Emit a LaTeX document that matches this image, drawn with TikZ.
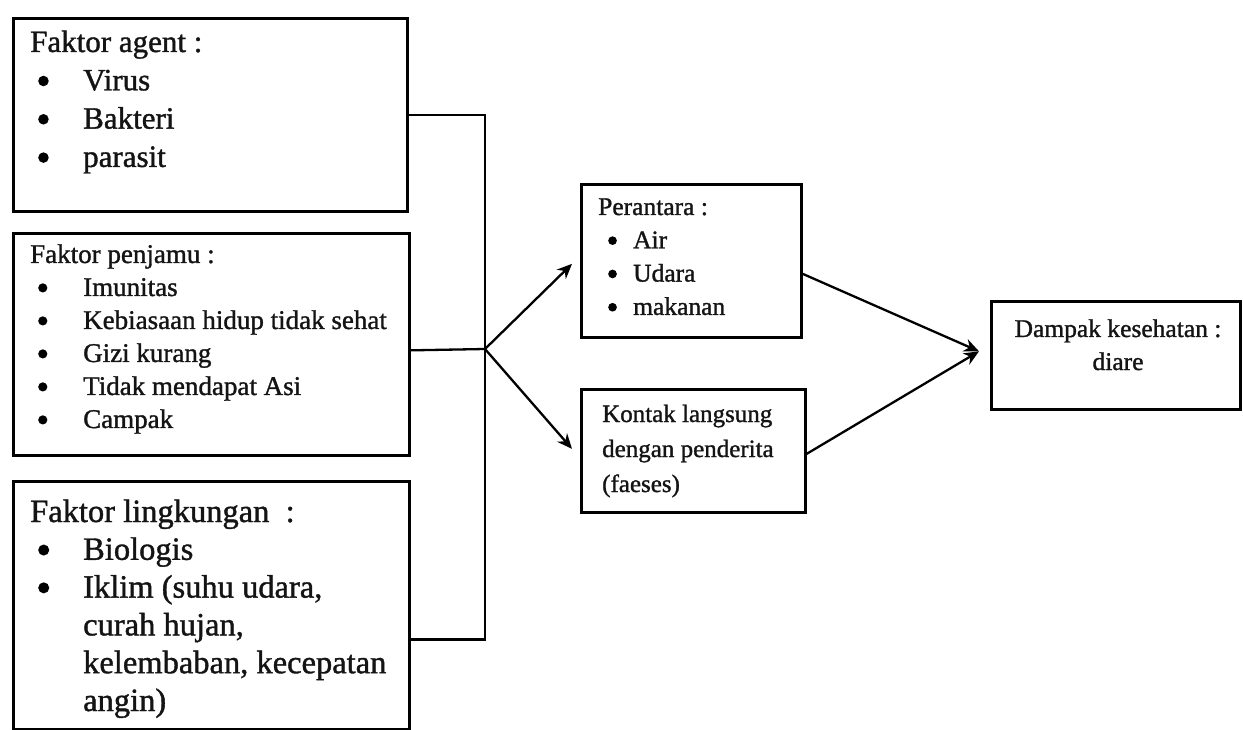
\documentclass[tikz,border=0pt]{standalone}
\usepackage{fontspec}
\setmainfont{Liberation Serif}[FakeBold=1.2]
\usetikzlibrary{arrows.meta}
% solid round bullet, sized to the current font
\newcommand{\bigdot}{\tikz[baseline=-0.3em]\fill[black] (0,0) circle (0.17em);}
% bullet item: indent, bullet column width, text
\newcommand{\bitem}[3]{\hspace*{#1}\makebox[#2][l]{\bigdot}#3}
\begin{document}
\begin{tikzpicture}[x=1pt,y=-1pt,
  box/.style={draw=black, line width=2.7pt, rectangle, inner sep=0pt, anchor=north west},
  txt/.style={anchor=base west, inner sep=0pt, text=black!92},
  link/.style={line width=2.3pt, black},
  arr/.style={link, -{Stealth[length=15pt,width=13pt]}}]
\useasboundingbox (0,0) rectangle (1243,730);
\fill[white] (0,0) rectangle (1243,730);

% ---- factor boxes ----
\node[box, minimum width=394pt, minimum height=193pt] (agent) at (12,17) {};
\node[box, minimum width=396pt, minimum height=222pt] (penjamu) at (12,232) {};
\node[box, minimum width=396pt, minimum height=248pt] (lingk) at (12,480) {};

\node[txt, font=\fontsize{31}{38.3}\selectfont] (agenttx) at (30,52)
  {\begin{tabular}[t]{@{}l@{}}Faktor agent :\\
   \bitem{8pt}{45pt}{Virus}\\
   \bitem{8pt}{45pt}{Bakteri}\\
   \bitem{8pt}{45pt}{parasit}\end{tabular}};

\node[txt, font=\fontsize{27}{33}\selectfont] (penjamutx) at (30,263)
  {\begin{tabular}[t]{@{}l@{}}Faktor penjamu :\\
   \bitem{8pt}{45pt}{Imunitas}\\
   \bitem{8pt}{45pt}{Kebiasaan hidup tidak sehat}\\
   \bitem{8pt}{45pt}{Gizi kurang}\\
   \bitem{8pt}{45pt}{Tidak mendapat Asi}\\
   \bitem{8pt}{45pt}{Campak}\end{tabular}};

\node[txt, font=\fontsize{32.5}{37.8}\selectfont] (lingktx) at (30,522)
  {\begin{tabular}[t]{@{}l@{}}Faktor lingkungan~~:\\
   \bitem{8pt}{45pt}{Biologis}\\
   \bitem{8pt}{45pt}{Iklim (suhu udara,}\\
   \hspace*{53pt}curah hujan,\\
   \hspace*{53pt}kelembaban, kecepatan\\
   \hspace*{53pt}angin)\end{tabular}};

% ---- transmission boxes ----
\node[box, minimum width=220pt, minimum height=153pt] (per) at (580,183) {};
\node[box, minimum width=224pt, minimum height=123pt] (kontak) at (580,388) {};

\node[txt, font=\fontsize{25.5}{33.3}\selectfont] (pertx) at (598,215)
  {\begin{tabular}[t]{@{}l@{}}Perantara :\\
   \bitem{10pt}{25pt}{Air}\\
   \bitem{10pt}{25pt}{Udara}\\
   \bitem{10pt}{25pt}{makanan}\end{tabular}};

\node[txt, font=\fontsize{25}{35}\selectfont] (kontaktx) at (602,422)
  {\begin{tabular}[t]{@{}l@{}}Kontak langsung\\
   dengan penderita\\
   (faeses)\end{tabular}};

% ---- outcome box ----
\node[box, minimum width=249pt, minimum height=108pt] (dampak) at (990,300) {};
\node[anchor=base, inner sep=0pt, text=black!92, font=\fontsize{25.5}{33}\selectfont] (dampaktx) at (1118,337)
  {\begin{tabular}[t]{@{}c@{}}Dampak kesehatan :\\ diare\end{tabular}};

% ---- connectors ----
\coordinate (j) at (485,349);
\draw[link] (agent.east) -| (j);
\draw[link] ([yshift=-34pt]lingk.east) -| (j);
\draw[link] ([yshift=-6pt]penjamu.east) -- (j);
\draw[arr] (j) -- ([xshift=-8pt,yshift=-3pt]per.west);
\draw[arr] (j) -- ([xshift=-8pt,yshift=2pt]kontak.west);

\coordinate (dt) at ([xshift=-11pt,yshift=4pt]dampak.west);
\draw[arr] ([yshift=-13pt]per.east) -- (dt);
\draw[arr] ([yshift=-3pt]kontak.east) -- (dt);
\end{tikzpicture}
\end{document}
